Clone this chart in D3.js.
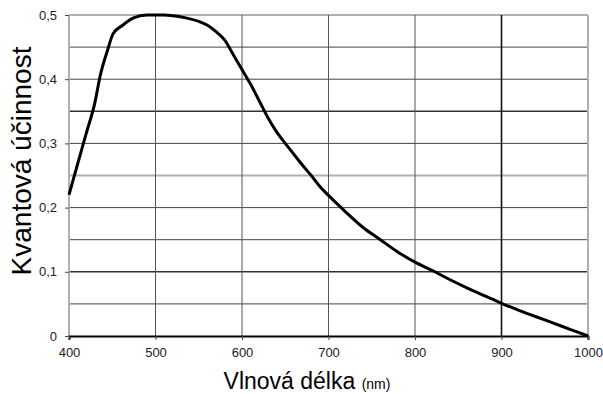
<!DOCTYPE html>
<html><head><meta charset="utf-8">
<script src="https://cdn.jsdelivr.net/npm/d3@7"></script>
<style>body{margin:0;background:#fff}svg{display:block;font-family:"Liberation Sans",Arial,sans-serif}</style>
</head><body><svg id="c" width="603" height="394"></svg>
<script>
const wavelengths = [400,410,420,430,436,445,451,462,474,490,500,510,520,530,540,550,560,570,580,590,600,610,620,630,640,650,660,670,680,690,700,720,740,760,780,800,820,840,860,880,900,920,940,960,980,1000];
const efficiency = [0.22,0.268,0.316,0.364,0.405,0.447,0.471,0.484,0.495,0.5,0.5,0.5,0.499,0.497,0.494,0.49,0.484,0.474,0.461,0.438,0.415,0.392,0.366,0.34,0.318,0.3,0.283,0.266,0.25,0.233,0.219,0.193,0.169,0.15,0.131,0.115,0.102,0.088,0.075,0.063,0.051,0.04,0.03,0.02,0.01,0];
const xTicks = [400,500,600,700,800,900,1000];
const yTicks = [0,0.1,0.2,0.3,0.4,0.5];
const yGrid = [0.05,0.1,0.15,0.2,0.25,0.3,0.35,0.4,0.45,0.5];

const svg = d3.select("#c");
const x = d3.scaleLinear().domain([400,1000]).range([69,588]);
const y = d3.scaleLinear().domain([0,0.5]).range([336,15]);

const hStyle = v => {
  const k = Math.round(v*100);
  if (k===50 || k===25) return {c:"#b0b0b0", w:2};
  if (k===35 || k===10) return {c:"#333", w:1.6};
  return {c:"#444", w:1};
};
svg.append("g").selectAll("line").data(yGrid).join("line")
  .attr("x1", x(400)).attr("x2", x(1000))
  .attr("y1", d=>y(d)).attr("y2", d=>y(d))
  .attr("stroke", d=>hStyle(d).c).attr("stroke-width", d=>hStyle(d).w);

const vStyle = v => {
  if (v===400 || v===1000) return {c:"#b0b0b0", w:2};
  if (v===900) return {c:"#111", w:1.6};
  return {c:"#555", w:1};
};
svg.append("g").selectAll("line").data(xTicks).join("line")
  .attr("x1", d=>x(d)).attr("x2", d=>x(d))
  .attr("y1", y(0.5)).attr("y2", y(0))
  .attr("stroke", d=>vStyle(d).c).attr("stroke-width", d=>vStyle(d).w);

const xAxis = svg.append("g").attr("transform", `translate(0,${y(0)})`)
  .call(d3.axisBottom(x).tickValues(xTicks).tickSize(4).tickPadding(8).tickFormat(d3.format("d")));
xAxis.select(".domain").attr("stroke","#000").attr("stroke-width",2);
xAxis.selectAll(".tick line").attr("stroke","#444");
xAxis.selectAll("text").attr("font-size",13).attr("fill","#222").attr("font-family","Liberation Sans, Arial, sans-serif");

const yAxis = svg.append("g").attr("transform", `translate(${x(400)},0)`)
  .call(d3.axisLeft(y).tickValues(yTicks).tickSize(4).tickPadding(8)
    .tickFormat(d => d===0 ? "0" : d3.format(".1f")(d).replace(".", ",")));
yAxis.select(".domain").remove();
yAxis.selectAll(".tick line").attr("stroke","#444");
yAxis.selectAll("text").attr("font-size",13).attr("fill","#222").attr("font-family","Liberation Sans, Arial, sans-serif");

const line = d3.line().x((d,i)=>x(wavelengths[i])).y(d=>y(d)).curve(d3.curveMonotoneX);
svg.append("path").datum(efficiency).attr("d", line)
  .attr("fill","none").attr("stroke","#000").attr("stroke-width",3).attr("stroke-linejoin","round");

const xt = svg.append("text").attr("x", 307).attr("y", 389).attr("text-anchor","middle").attr("fill","#000");
xt.append("tspan").attr("font-size",23).text("Vlnová délka ");
xt.append("tspan").attr("font-size",14).text("(nm)");

svg.append("text").attr("transform","translate(31,161) rotate(-90)").attr("text-anchor","middle")
  .attr("font-size",28).attr("fill","#000").text("Kvantová účinnost");
</script></body></html>
